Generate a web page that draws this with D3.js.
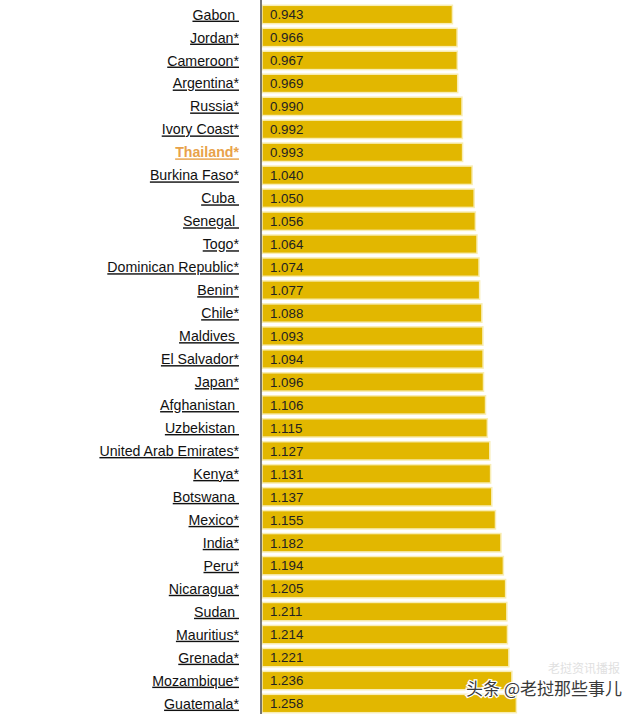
<!DOCTYPE html>
<html>
<head>
<meta charset="utf-8">
<script src="https://cdn.jsdelivr.net/npm/d3@7"></script>
<style>
  html, body { margin: 0; padding: 0; background: #fff; }
  svg { display: block; }
  .lbl { font-family: "Liberation Sans", Arial, sans-serif; font-size: 14.2px; white-space: pre; text-decoration: underline; }
  .val { font-family: "Liberation Sans", Arial, sans-serif; font-size: 13.3px; fill: #222; }
</style>
</head>
<body>
<svg id="chart" width="640" height="714"></svg>
<script>
const countries = ["Gabon ", "Jordan*", "Cameroon*", "Argentina*", "Russia*", "Ivory Coast*", "Thailand*",
  "Burkina Faso*", "Cuba ", "Senegal ", "Togo*", "Dominican Republic*", "Benin*", "Chile*", "Maldives ",
  "El Salvador*", "Japan*", "Afghanistan ", "Uzbekistan ", "United Arab Emirates*", "Kenya*", "Botswana ",
  "Mexico*", "India*", "Peru*", "Nicaragua*", "Sudan ", "Mauritius*", "Grenada*", "Mozambique*", "Guatemala*"];
const values = [0.943, 0.966, 0.967, 0.969, 0.990, 0.992, 0.993,
  1.040, 1.050, 1.056, 1.064, 1.074, 1.077, 1.088, 1.093,
  1.094, 1.096, 1.106, 1.115, 1.127, 1.131, 1.137,
  1.155, 1.182, 1.194, 1.205, 1.211, 1.214, 1.221, 1.236, 1.258];
const highlight = "Thailand*";
const valueLabels = values.map(v => v.toFixed(3));

const svg = d3.select("#chart");
const x = d3.scaleLinear().domain([0, 1]).range([261, 464]);
const y = d3.scaleBand().domain(countries).range([3, 715]).paddingInner(0.2).paddingOuter(0.1);

const data = countries.map((c, i) => ({ c, v: values[i], t: valueLabels[i] }));

svg.selectAll("rect.bar").data(data).join("rect")
  .attr("class", "bar")
  .attr("x", x(0) + 1)
  .attr("y", d => y(d.c))
  .attr("width", d => x(d.v) - x(0) - 1)
  .attr("height", y.bandwidth())
  .attr("fill", "#e2b700")
  .attr("stroke", "#f8edb4")
  .attr("stroke-width", 1.5);

svg.append("line")
  .attr("x1", x(0)).attr("x2", x(0))
  .attr("y1", 0).attr("y2", 714)
  .attr("stroke", "#4a4a4a").attr("stroke-width", 1.5);

svg.selectAll("text.lbl").data(data).join("text")
  .attr("class", "lbl")
  .attr("x", 239)
  .attr("y", d => y(d.c) + y.bandwidth() / 2)
  .attr("dy", "0.36em")
  .attr("text-anchor", "end")
  .attr("fill", d => d.c === highlight ? "#e8a24a" : "#111")
  .style("font-weight", d => d.c === highlight ? "bold" : "normal")
  .text(d => d.c);

svg.selectAll("text.val").data(data).join("text")
  .attr("class", "val")
  .attr("x", x(0) + 9)
  .attr("y", d => y(d.c) + y.bandwidth() / 2)
  .attr("dy", "0.36em")
  .text(d => d.t);

// watermark
svg.append("text")
  .attr("x", 620).attr("y", 673)
  .attr("text-anchor", "end")
  .style("font-family", "'Noto Sans CJK SC', sans-serif")
  .style("font-size", "12px")
  .attr("fill", "#d9d9d9")
  .attr("opacity", 0.8)
  .text("老挝资讯播报");
svg.append("text")
  .attr("x", 622).attr("y", 695)
  .attr("text-anchor", "end")
  .style("font-family", "'Noto Sans CJK SC', sans-serif")
  .style("font-size", "17px")
  .attr("fill", "#3a3a3a")
  .attr("stroke", "#ffffff")
  .attr("stroke-width", 2.5)
  .attr("paint-order", "stroke")
  .text("头条 @老挝那些事儿");
</script>
</body>
</html>
